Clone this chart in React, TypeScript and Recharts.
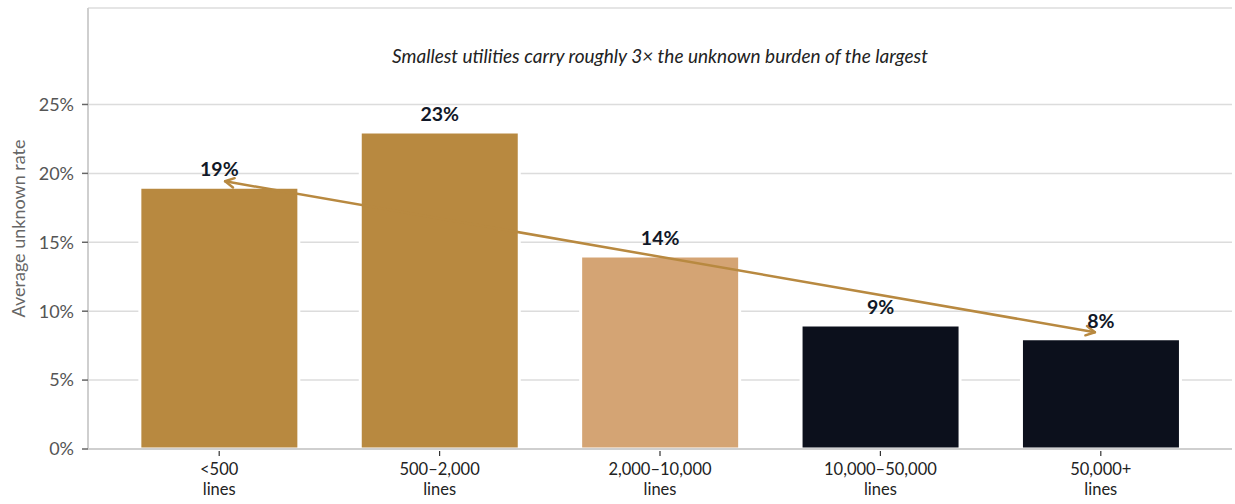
import React from 'react';
import { BarChart, Bar, XAxis, YAxis, CartesianGrid, ReferenceLine, LabelList, Cell } from 'recharts';

// utility size groups (number of service lines)
const sizeGroups = ['<500', '500–2,000', '2,000–10,000', '10,000–50,000', '50,000+'];
// average share of lines with unknown material
const unknownRate = [0.19, 0.23, 0.14, 0.09, 0.08];
const yTicks = [0, 0.05, 0.1, 0.15, 0.2, 0.25];

// trend arrow from the smallest to the largest group
const trendStart = { group: '<500', rate: 0.195 };
const trendEnd = { group: '50,000+', rate: 0.084 };

const GOLD = '#B88940';
const TAN = '#D4A474';
const NAVY = '#0C101C';
const barColors = [GOLD, GOLD, TAN, NAVY, NAVY];

const data = sizeGroups.map((group, i) => ({ group, rate: unknownRate[i] }));

const pct = (v: number) => `${Math.round(v * 100)}%`;

function GroupTick(props: any) {
	const { x, y, payload } = props;
	return (
		<g>
			<line x1={x} y1={y + 2} x2={x} y2={y + 7} stroke="#333" strokeWidth={1.2} />
			<text x={x} y={y + 26} textAnchor="middle" fill="#222" fontSize={16.5}>
				{payload.value}
			</text>
			<text x={x} y={y + 46} textAnchor="middle" fill="#222" fontSize={16.5}>
				lines
			</text>
		</g>
	);
}

// double-headed arrow, trimmed a little at both ends
function TrendArrow(props: any) {
	const { x1, y1, x2, y2 } = props;
	const len = Math.hypot(x2 - x1, y2 - y1);
	const ux = (x2 - x1) / len;
	const uy = (y2 - y1) / len;
	const trim = 6;
	const ax = x1 + ux * trim;
	const ay = y1 + uy * trim;
	const bx = x2 - ux * trim;
	const by = y2 - uy * trim;
	const head = 10;
	const spread = (28 * Math.PI) / 180;
	const arm = (px: number, py: number, dx: number, dy: number, s: number) => {
		const c = Math.cos(s);
		const sn = Math.sin(s);
		return [px + head * (dx * c - dy * sn), py + head * (dx * sn + dy * c)];
	};
	const [l1x, l1y] = arm(ax, ay, ux, uy, spread);
	const [l2x, l2y] = arm(ax, ay, ux, uy, -spread);
	const [r1x, r1y] = arm(bx, by, -ux, -uy, spread);
	const [r2x, r2y] = arm(bx, by, -ux, -uy, -spread);
	return (
		<g stroke={GOLD} strokeWidth={2.5} fill="none" strokeLinecap="round" strokeLinejoin="round">
			<line x1={ax} y1={ay} x2={bx} y2={by} />
			<polyline points={`${l1x},${l1y} ${ax},${ay} ${l2x},${l2y}`} />
			<polyline points={`${r1x},${r1y} ${bx},${by} ${r2x},${r2y}`} />
		</g>
	);
}

function YTitle(props: any) {
	const { viewBox } = props;
	const x = viewBox.x + 25;
	const y = viewBox.y + viewBox.height / 2;
	return (
		<text x={x} y={y} transform={`rotate(-90, ${x}, ${y})`} textAnchor="middle" fill="#666" fontSize={18}>
			Average unknown rate
		</text>
	);
}

export default function App() {
	return (
		<div style={{ position: 'absolute', left: 0, top: 0, width: 1235, height: 504, background: '#fff' }}>
			<BarChart
				width={1235}
				height={504}
				data={data}
				barCategoryGap="14%"
				margin={{ top: 8, right: 3, left: 0, bottom: 0 }}
				style={{ fontFamily: 'Lato, sans-serif' }}
			>
				<CartesianGrid vertical={false} stroke="#dcdcdc" strokeWidth={1.5} />
				<XAxis
					dataKey="group"
					height={55}
					padding={{ left: 21, right: 21 }}
					axisLine={{ stroke: '#cfcfcf', strokeWidth: 2 }}
					tickLine={false}
					tickSize={0}
					tickMargin={0}
					tick={<GroupTick />}
					interval={0}
				/>
				<YAxis
					width={88}
					domain={[0, 0.32]}
					ticks={yTicks}
					tickFormatter={pct}
					axisLine={{ stroke: '#cfcfcf', strokeWidth: 2 }}
					tickLine={{ stroke: '#666', strokeWidth: 1.5 }}
					tickSize={6}
					tickMargin={8}
					tick={{ fill: '#555', fontSize: 18 }}
					label={<YTitle />}
				/>
				<Bar dataKey="rate" stroke="#fff" strokeWidth={3} isAnimationActive={false}>
					{data.map((d, i) => (
						<Cell key={d.group} fill={barColors[i]} />
					))}
					<LabelList
						dataKey="rate"
						position="top"
						offset={11}
						formatter={(v: any) => pct(Number(v))}
						style={{ fill: '#111827', fontSize: 19.5, fontWeight: 700 }}
					/>
				</Bar>
				<ReferenceLine
					segment={[
						{ x: trendStart.group, y: trendStart.rate },
						{ x: trendEnd.group, y: trendEnd.rate },
					]}
					shape={<TrendArrow />}
				/>
				<text x={660} y={63} textAnchor="middle" fill="#222" fontSize={19} fontStyle="italic">
					Smallest utilities carry roughly 3× the unknown burden of the largest
				</text>
			</BarChart>
		</div>
	);
}
